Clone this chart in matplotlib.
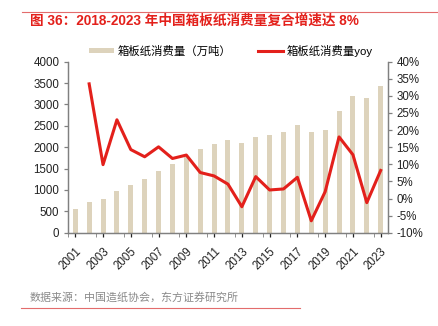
import matplotlib
matplotlib.use("Agg")
import matplotlib.pyplot as plt
import numpy as np
from matplotlib.ticker import FuncFormatter

plt.rcParams['font.family'] = ['Liberation Sans', 'Noto Sans CJK SC']
plt.rcParams['axes.unicode_minus'] = False

years = list(range(2001, 2024))
consumption = [545, 725, 795, 975, 1123, 1249, 1443, 1607, 1778, 1951, 2075, 2168,
               2105, 2239, 2292, 2363, 2512, 2348, 2402, 2840, 3205, 3158, 3424]
yoy_years = list(range(2002, 2024))
yoy = [33.5, 9.9, 23.0, 14.3, 12.2, 15.1, 11.7, 12.7, 7.6, 6.6, 4.2, -2.4,
       6.4, 2.5, 2.8, 6.2, -6.5, 2.0, 18.0, 12.8, -1.2, 8.2]

bar_color = '#DDD3BC'
line_color = '#E3201B'
axis_color = '#808080'

fig = plt.figure(figsize=(4.38, 3.26), dpi=100)
ax = fig.add_axes([0.156, 0.286, 0.729, 0.525])
ax2 = ax.twinx()

x = np.arange(len(years))
x_yoy = np.array([years.index(y) for y in yoy_years])

ax.bar(x, consumption, width=0.36, color=bar_color, label='箱板纸消费量（万吨）', zorder=2)
ax2.plot(x_yoy, yoy, color=line_color, lw=2.2, label='箱板纸消费量yoy', zorder=3)

ax.set_xlim(-0.5, len(years) - 0.5)
ax.set_ylim(0, 4000)
ax.set_yticks(range(0, 4001, 500))
ax2.set_ylim(-10, 40)
ax2.set_yticks(range(-10, 41, 5))
ax2.yaxis.set_major_formatter(FuncFormatter(lambda v, p: f'{v:.0f}%'))

# year labels every other category, tick marks on category boundaries
ax.set_xticks(x[::2])
ax.set_xticklabels([str(y) for y in years[::2]], rotation=45, ha='right',
                   rotation_mode='anchor')
ax.set_xticks(np.arange(-0.5, len(years) - 1, 2), minor=True)
ax.tick_params(axis='x', which='major', length=0, pad=6)
ax.tick_params(axis='x', which='minor', length=3, color=axis_color, direction='out')

for a in (ax, ax2):
    a.spines['top'].set_visible(False)
    for s in ('left', 'right', 'bottom'):
        a.spines[s].set_color(axis_color)
        a.spines[s].set_linewidth(0.9)
    a.tick_params(labelsize=8.3, colors='#222222', width=0.9, length=3)
    a.tick_params(axis='y', color=axis_color)

h1, l1 = ax.get_legend_handles_labels()
h2, l2 = ax2.get_legend_handles_labels()
fig.legend(h1 + h2, l1 + l2, loc='center', bbox_to_anchor=(0.527, 0.845), ncol=2,
           frameon=False, fontsize=8.2, handlelength=2.2, handleheight=0.35,
           handletextpad=0.3, columnspacing=2.4)

fig.add_artist(plt.Line2D([0.05, 1.0], [0.963, 0.963], color='#E36C6C', lw=0.8))
fig.text(0.068, 0.935, '图 36：2018-2023 年中国箱板纸消费量复合增速达 8%',
         color='#E3201B', fontsize=9.8, fontweight='bold', va='center')
fig.text(0.068, 0.088, '数据来源：中国造纸协会，东方证券研究所',
         color='#8A8A8A', fontsize=7.9, va='center')
fig.add_artist(plt.Line2D([0.047, 0.685], [0.055, 0.055], color='#E36C6C', lw=0.8))

fig.savefig('out.png', dpi=100, facecolor='white')
